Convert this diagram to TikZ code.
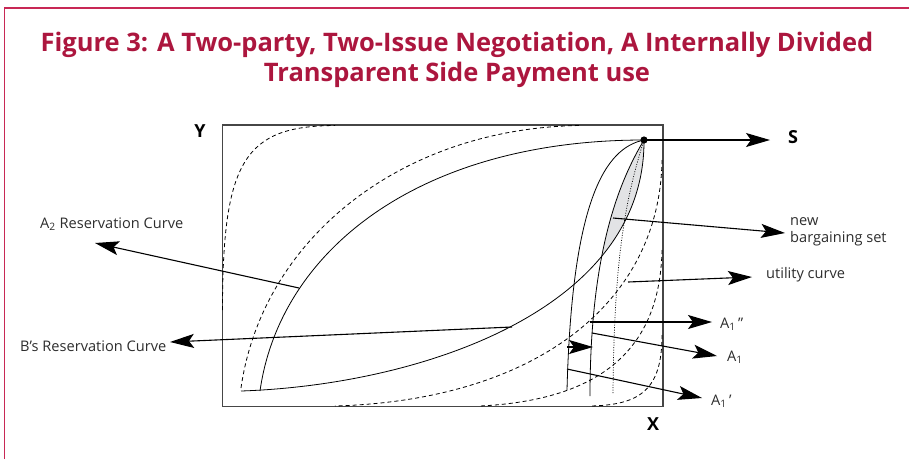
\documentclass[tikz,border=0pt]{standalone}
\usepackage{fontspec}
\setmainfont{Open Sans}
\newfontfamily\titlefont{Open Sans}
\usepackage{xcolor}
\usepackage{tikz}
\usetikzlibrary{arrows.meta}
\definecolor{titlered}{RGB}{172,22,62}
\definecolor{framered}{RGB}{200,40,85}
\definecolor{boxgrey}{RGB}{70,70,70}
\definecolor{lensgrey}{RGB}{226,227,229}
\definecolor{labelgrey}{RGB}{45,45,45}
\tikzset{
  frame/.style   = {draw=framered, line width=1.6pt},
  plotbox/.style = {draw=boxgrey, line width=1.4pt},
  curve/.style   = {draw=black, line width=0.8pt},
  dcurve/.style  = {draw=black, line width=0.8pt, dash pattern=on 4pt off 3pt},
  dotted line/.style = {draw=black, line width=0.7pt, dash pattern=on 1pt off 1.5pt},
  arr/.style     = {-{Stealth[length=24pt, width=14pt, inset=5pt]}, line width=1.1pt, draw=black},
  lbl/.style     = {font=\fontsize{14.6}{17.5}\selectfont, text=labelgrey, inner sep=0pt, anchor=west},
  axis/.style    = {font=\titlefont\bfseries\fontsize{18}{20}\selectfont, inner sep=0pt},
}

\begin{document}
\begin{tikzpicture}[x=1pt, y=-1pt]
\useasboundingbox (0,0) rectangle (909,459);

% page frame
\draw[frame] (4.5,459) -- (4.5,8) -- (909,8);

% title
\node[font=\titlefont\bfseries\fontsize{25.5}{30}\selectfont, text=titlered, align=center] (title)
  at (457,60) {Figure 3: A Two-party, Two-Issue Negotiation, A Internally Divided\\
  Transparent Side Payment use};

% outcome space
\draw[plotbox] (222.5,125) rectangle (663,406.5);
\node[axis] (ylab) at (200,131) {Y};
\node[axis] (xlab) at (653,424) {X};
\coordinate (S) at (644,140);

% shaded new bargaining set
\begin{scope}
  \clip (S) .. controls (620,180) and (590,250) .. (590,396) -- (700,396) -- (700,140) -- cycle;
  \fill[lensgrey] (241,391) .. controls (420,385) and (645,310) .. (S) -- (241,140) -- cycle;
\end{scope}

% dashed utility curves, upper left
\draw[dcurve] (222.5,310) .. controls (222.5,160) and (245,126) .. (335,125.5);
\draw[dcurve] (241,388) .. controls (262,240) and (400,128) .. (580,125.5);

% dashed utility curves, lower right
\draw[dcurve] (662,160) .. controls (660,300) and (540,400) .. (335,406);
\draw[dcurve] (662,250) .. controls (660,350) and (600,400) .. (480,406);
\draw[dcurve] (662,335) .. controls (662,390) and (640,405) .. (590,406);

% reservation curves (lens)
\draw[curve] (241,391) .. controls (420,385) and (645,310) .. (S);
\draw[curve] (260,391) .. controls (280,250) and (420,140) .. (S);

% A1 curves
\draw[curve] (S) .. controls (605,148) and (572,200) .. (567,390);
\draw[curve] (S) .. controls (620,180) and (590,250) .. (590,396);
\draw[dotted line] (S) .. controls (625,200) and (614,260) .. (613,394);

\fill (S) circle (3.6pt);

% labels
\node[axis, anchor=center] (slab) at (793,137) {S};
\node[lbl] (atwo) at (40,224) {A\textsubscript{2} Reservation Curve};
\node[lbl] (bres) at (20,346) {B’s Reservation Curve};
\node[lbl, align=left] (newset) at (790,232) {new\\bargaining set};
\node[lbl] (util) at (766,275) {utility curve};
\node[lbl] (aonepp) at (720,324) {A\textsubscript{1}\,”};
\node[lbl] (aone) at (727,357) {A\textsubscript{1}};
\node[lbl] (aonep) at (711,401) {A\textsubscript{1}\,’};

% pointers
\coordinate (onAtwo) at (299,288);
\coordinate (tipAtwo) at (95,243);
\coordinate (onB) at (512,327);
\coordinate (tipB) at (170,342);
\coordinate (tipS) at (770,140);
\coordinate (inset) at (613,218);
\coordinate (tipset) at (785,233);
\coordinate (onutil) at (628,282);
\coordinate (tiputil) at (752,277);
\coordinate (onpp) at (590,322);
\coordinate (tippp) at (712,322);
\coordinate (onone) at (592,333);
\coordinate (tipone) at (717,356);
\coordinate (onp) at (567,369);
\coordinate (tipp) at (702,398);
\coordinate (shiftA) at (567,347);
\coordinate (shiftB) at (593,347);

\draw[arr] (onAtwo) -- (tipAtwo);
\draw[arr] (onB) -- (tipB);
\draw[arr] (S) -- (tipS);
\draw[arr] (inset) -- (tipset);
\draw[arr] (onutil) -- (tiputil);
\draw[arr] (onpp) -- (tippp);
\draw[arr] (onone) -- (tipone);
\draw[arr] (onp) -- (tipp);
\draw[arr] (shiftA) -- (shiftB);

\end{tikzpicture}
\end{document}
